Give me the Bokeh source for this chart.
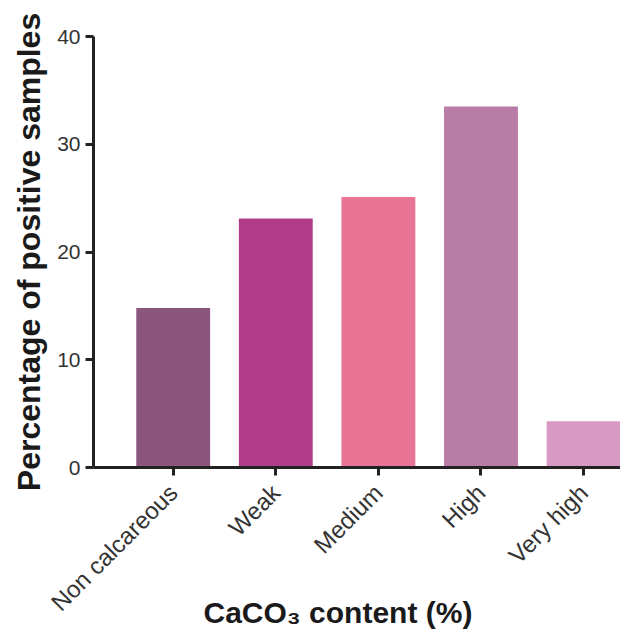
import math
from bokeh.plotting import figure
from bokeh.models import Range1d, FixedTicker, Title, ColumnDataSource
from bokeh.embed import file_html
from bokeh.resources import INLINE

categories = ["Non calcareous", "Weak", "Medium", "High", "Very high"]
values = [14.8, 23.1, 25.1, 33.5, 4.3]
colors = ["#8C557D", "#B03C8A", "#E97496", "#B97CA6", "#D89AC4"]
y_ticks = [0, 10, 20, 30, 40]

xs = list(range(len(categories)))
src = ColumnDataSource(dict(x=xs, top=values, color=colors, cat=categories))

p = figure(width=620, height=633, output_backend="svg", toolbar_location=None,
           x_range=Range1d(-0.777, 4.36), y_range=Range1d(0, 40),
           min_border_left=93, min_border_right=0, min_border_top=36, min_border_bottom=166)
p.outline_line_color = None
p.xgrid.visible = False
p.ygrid.visible = False
p.background_fill_color = "white"
p.border_fill_color = "white"

p.vbar(x="x", top="top", bottom=0, width=0.72, color="color", line_color=None, source=src)

FONT = "Liberation Sans"
for ax in (p.xaxis[0], p.yaxis[0]):
    ax.axis_line_width = 3
    ax.axis_line_color = "#222222"
    ax.major_tick_line_width = 3
    ax.major_tick_line_color = "#222222"
    ax.major_tick_out = 8
    ax.major_tick_in = 0
    ax.minor_tick_line_color = None
    ax.major_label_text_font = FONT
    ax.major_label_text_color = "#333333"

p.yaxis.major_label_text_font_size = "21px"
p.xaxis.major_label_text_font_size = "24px"

p.yaxis.ticker = FixedTicker(ticks=y_ticks)
p.yaxis.axis_label = "Percentage of positive samples"
p.yaxis.axis_label_text_font = FONT
p.yaxis.axis_label_text_font_style = "bold"
p.yaxis.axis_label_text_font_size = "32px"
p.yaxis.axis_label_text_color = "#1a1a1a"
p.yaxis.axis_label_standoff = 7

p.xaxis.ticker = FixedTicker(ticks=xs)
p.xaxis.major_label_overrides = {i: c for i, c in zip(xs, categories)}
p.xaxis.major_label_orientation = math.pi / 4
p.xaxis.major_label_standoff = 13

xtitle = Title(text="CaCO\u2083 content (%)", align="left", vertical_align="top",
               offset=110, standoff=-66,
               text_font=FONT, text_font_style="bold", text_font_size="30px",
               text_color="#1a1a1a")
p.add_layout(xtitle, "below")

open("out.html", "w").write(file_html(p, INLINE))
